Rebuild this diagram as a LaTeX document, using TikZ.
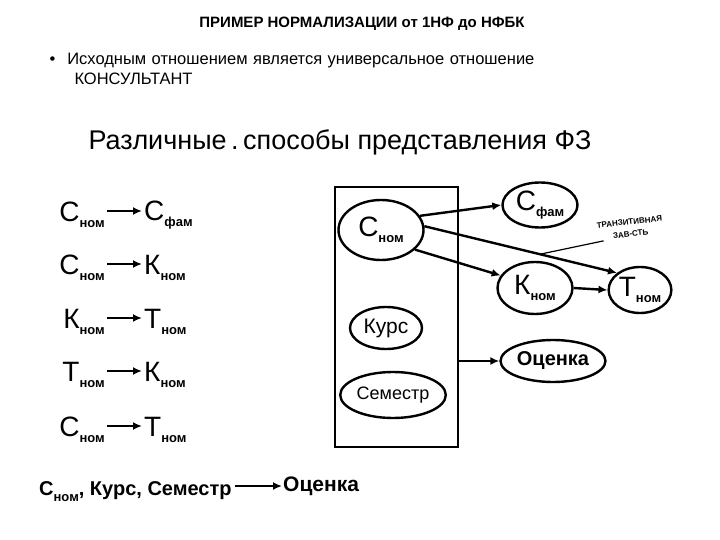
\documentclass[tikz,border=0pt]{standalone}
\usepackage{fontspec}
\setmainfont{Liberation Sans}
\usetikzlibrary{arrows.meta,calc,shapes.geometric}
\newcommand{\lo}[1]{\raisebox{-6pt}{\fontsize{13}{14}\selectfont\bfseries #1}}
\begin{document}
\begin{tikzpicture}[x=1pt,y=-1pt,
  hw/.style={font=\fontsize{28}{30}\selectfont},
  el/.style={draw,ellipse,line width=2.4pt,inner sep=1pt},
  ar/.style={line width=2.4pt,-{Latex[length=9pt,width=8pt]}}]
\useasboundingbox (0,0) rectangle (720,540);
\node[font=\bfseries\fontsize{15}{17}\selectfont] (title) at (362,24) {ПРИМЕР НОРМАЛИЗАЦИИ от 1НФ до НФБК};
\node[anchor=north west,font=\fontsize{16.5}{20}\selectfont,align=left,text width=660pt] (bul) at (46,50)
 {•\hspace{12pt}Исходным отношением является универсальное отношение\\\hspace{25pt}КОНСУЛЬТАНТ};
\node[font=\fontsize{27}{29}\selectfont] (head) at (340,142) {Различные\,.\,способы представления ФЗ};
% left list
\foreach \y/\aa/\bb/\cc/\dd [count=\i] in {215/С/ном/С/фам, 268/С/ном/К/ном, 322/К/ном/Т/ном, 375/Т/ном/К/ном, 430/С/ном/Т/ном}{
  \node[hw,anchor=east,inner sep=1pt] (l\i) at (106,\y) {\aa\lo{\bb}};
  \node[hw,anchor=west,inner sep=1pt] (r\i) at (143,\y) {\cc\lo{\dd}};
  \draw[ar] ($(l\i.east)+(1,-4)$) -- ($(r\i.west)+(-1,-4)$);
}
\node[anchor=west,font=\bfseries\fontsize{20}{22}\selectfont,inner sep=1pt] (lz) at (38,492) {С\lo{ном}, Курс, Семестр};
\node[anchor=west,font=\bfseries\fontsize{21}{22}\selectfont,inner sep=1pt] (rz) at (282,486) {Оценка};
\draw[ar] ($(lz.east)+(2,-6)$) -- (rz.west);
% box
\node[draw,line width=2.4pt,minimum width=123pt,minimum height=260pt] (box) at (396.5,317) {};
\node[el,minimum width=85pt,minimum height=60pt,hw] (cn) at (381,230) {С\lo{ном}};
\node[el,minimum width=72pt,minimum height=42pt,font=\fontsize{21}{22}\selectfont] (ku) at (386,328) {Курс};
\node[el,minimum width=94pt,minimum height=46pt,font=\fontsize{18}{20}\selectfont] (se) at (393,395) {Семестр};
\node[el,minimum width=75pt,minimum height=45pt,hw] (cf) at (540,205) {С\lo{фам}};
\node[el,minimum width=75pt,minimum height=52pt,hw] (kn) at (535,288) {К\lo{ном}};
\node[el,minimum width=60pt,minimum height=46pt,hw] (tn) at (640,290) {Т\lo{ном}};
\node[el,minimum width=92pt,minimum height=42pt,font=\bfseries\fontsize{20}{22}\selectfont] (oc) at (553,361) {Оценка};
\draw[ar] (cn.20) -- (cf.west);
\draw[ar] (cn.-30) -- (kn.160);
\draw[ar] (cn.5) -- coordinate[pos=0.6] (mid) (tn.north west);
\draw[ar] (kn.east) -- (tn.west);
\draw[ar] (box.east |- oc) -- (oc.west);
\node[font=\bfseries\fontsize{8}{12}\selectfont,align=center,rotate=6,inner sep=1pt] (tr) at (630,228) {ТРАНЗИТИВНАЯ\\ЗАВ-СТЬ};
\draw[line width=1.2pt] (tr.200) -- (mid);
\end{tikzpicture}
\end{document}
